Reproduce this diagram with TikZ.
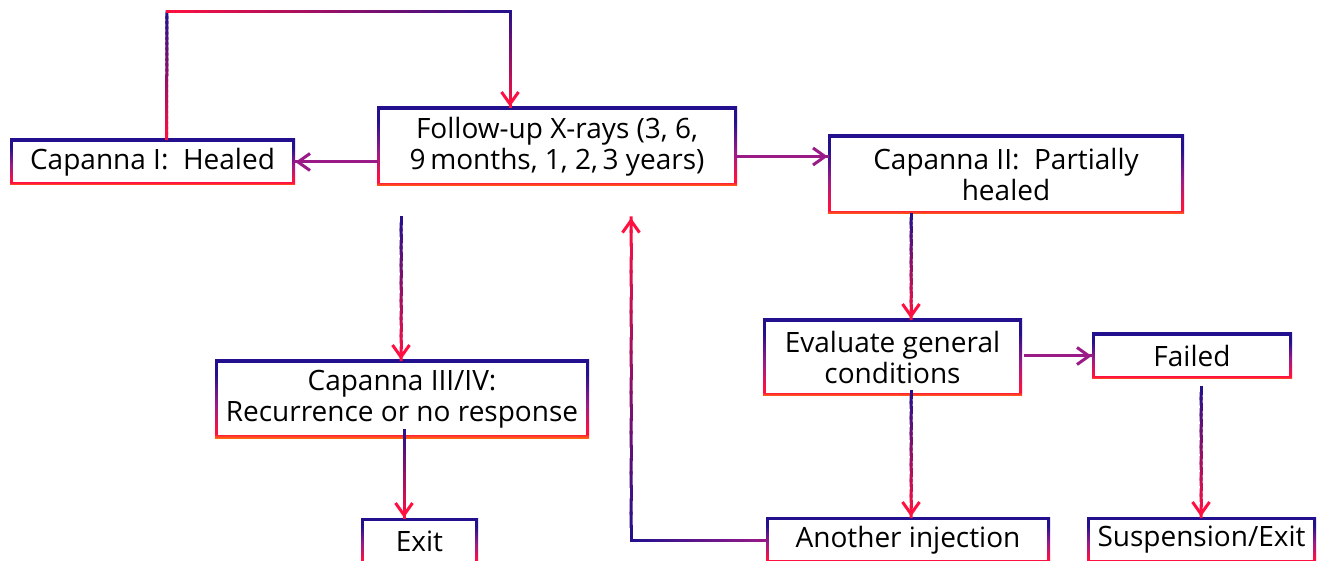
\documentclass[tikz,border=0pt]{standalone}
\usepackage{fontspec}
\setmainfont{Open Sans}
\usetikzlibrary{arrows.meta,calc}
\definecolor{cBlue}{HTML}{22108E}
\definecolor{cPurple}{HTML}{9A1A88}
\definecolor{cRed}{HTML}{FF1040}
\definecolor{cOrange}{HTML}{FF6A10}
\pgfdeclareverticalshading{boxframe}{100bp}{color(0bp)=(cOrange); color(25bp)=(cOrange); color(27.5bp)=(cRed); color(30bp)=(cRed); color(47bp)=(cPurple); color(66bp)=(cBlue); color(100bp)=(cBlue)}
\tikzset{%
  flowbox/.style={
    shade,
    shading=boxframe,
    draw=none,
    align=center,
    inner sep=0pt,
    font=\fontsize{14pt}{15.5pt}\selectfont,
    path picture={\fill[white] ([shift={(1.5pt,-1.5pt)}]path picture bounding box.north west)
      rectangle ([shift={(-1.5pt,1.5pt)}]path picture bounding box.south east);}
  },
  conn/.style={
    line width=1.5pt,
    line cap=rect
  },
  tip/.style={
    line width=1.5pt,
    -{Straight Barb[length=6pt,width=8.5pt]}
  },
}
% line from #1 to #2, colour running from #3 to #4
\newcommand\gradline[4]{%
  \foreach \k in {1,...,24}{
    \pgfmathtruncatemacro\pc{(\k-0.5)*100/24}
    \draw [conn, color=#4!\pc!#3] ($(#1)!{(\k-1)/24}!(#2)$) -- ($(#1)!{\k/24}!(#2)$);
  }}
% same, with an arrow tip at #2
\newcommand\gradarrow[4]{%
  \gradline{#1}{#2}{#3}{#4}
  \draw [tip, #4] ($(#2)!4pt!(#1)$) -- (#2);}

\begin{document}
\begin{tikzpicture}[x=0.5pt, y=-0.5pt]
\useasboundingbox (0,0) rectangle (1318,561);

% boxes
\node [flowbox, minimum width=142.5pt, minimum height=23pt] (heal) at (152.5,162) {Capanna I:\ \ Healed};
\node [flowbox, minimum width=180pt, minimum height=39.5pt] (follow) at (557,146.5) {Follow-up X-rays (3, 6,\\9\,months, 1, 2,\,3 years)};
\node [flowbox, minimum width=178pt, minimum height=39.5pt] (partial) at (1006,174.5) {Capanna II:\ \ Partially\\healed};
\node [flowbox, minimum width=187pt, minimum height=39pt] (recur) at (402,399) {Capanna III/IV:\\Recurrence or no response};
\node [flowbox, minimum width=58.5pt, minimum height=23pt] (exit) at (419.5,541) {Exit};
\node [flowbox, minimum width=129.5pt, minimum height=38.5pt] (evaluate) at (892.5,357.5) {Evaluate general\\conditions};
\node [flowbox, minimum width=100pt, minimum height=23pt] (failed) at (1192,356) {Failed};
\node [flowbox, minimum width=142pt, minimum height=23pt] (inject) at (908,540) {Another injection};
\node [flowbox, minimum width=114.5pt, minimum height=23pt] (suspend) at (1201.5,540) {Suspension/Exit};

% free ends and corners
\coordinate (loopS) at ([xshift=7pt]heal.north);
\coordinate (loopL) at (167,12);
\coordinate (loopR) at (510,12);
\coordinate (loopE) at (follow.north -| loopR);
\coordinate (downA) at (401,218);
\coordinate (exitA) at (404,430);
\coordinate (colB) at (911,0);
\coordinate (partS) at (partial.south -| colB);
\coordinate (evalN) at (evaluate.north -| colB);
\coordinate (injA) at (911,392);
\coordinate (failA) at (1201,388);
\coordinate (backC) at (631,540);
\coordinate (backE) at (631,218);

% loop back over the top
\gradline{loopS}{loopL}{cRed}{cBlue}
\gradline{loopL}{loopR}{cRed}{cBlue}
\gradarrow{loopR}{loopE}{cBlue}{cRed}

% horizontal arrows
\draw [conn, cPurple] (follow.west |- heal.east) -- (heal.east);
\draw [tip, cPurple] ([xshift=4pt]heal.east) -- (heal.east);
\coordinate (folE) at ([yshift=-5pt]follow.east);
\draw [conn, cPurple] (folE) -- (partial.west |- folE);
\draw [tip, cPurple] ([xshift=-4pt]partial.west |- folE) -- (partial.west |- folE);
\coordinate (evalE) at ([xshift=1.5pt]evaluate.east |- failed.west);
\draw [conn, cPurple] (evalE) -- (failed.west);
\draw [tip, cPurple] ([xshift=-4pt]failed.west) -- (failed.west);

% vertical arrows
\gradarrow{downA}{downA |- recur.north}{cBlue}{cRed}
\gradarrow{exitA}{exitA |- exit.north}{cBlue}{cRed}
\gradarrow{partS}{evalN}{cBlue}{cRed}
\gradarrow{injA}{injA |- inject.north}{cBlue}{cRed}
\gradarrow{failA}{failA |- suspend.north}{cBlue}{cRed}

% another injection back to follow-up
\gradline{inject.west}{backC}{cPurple}{cBlue}
\gradarrow{backC}{backE}{cBlue}{cRed}
\end{tikzpicture}
\end{document}
